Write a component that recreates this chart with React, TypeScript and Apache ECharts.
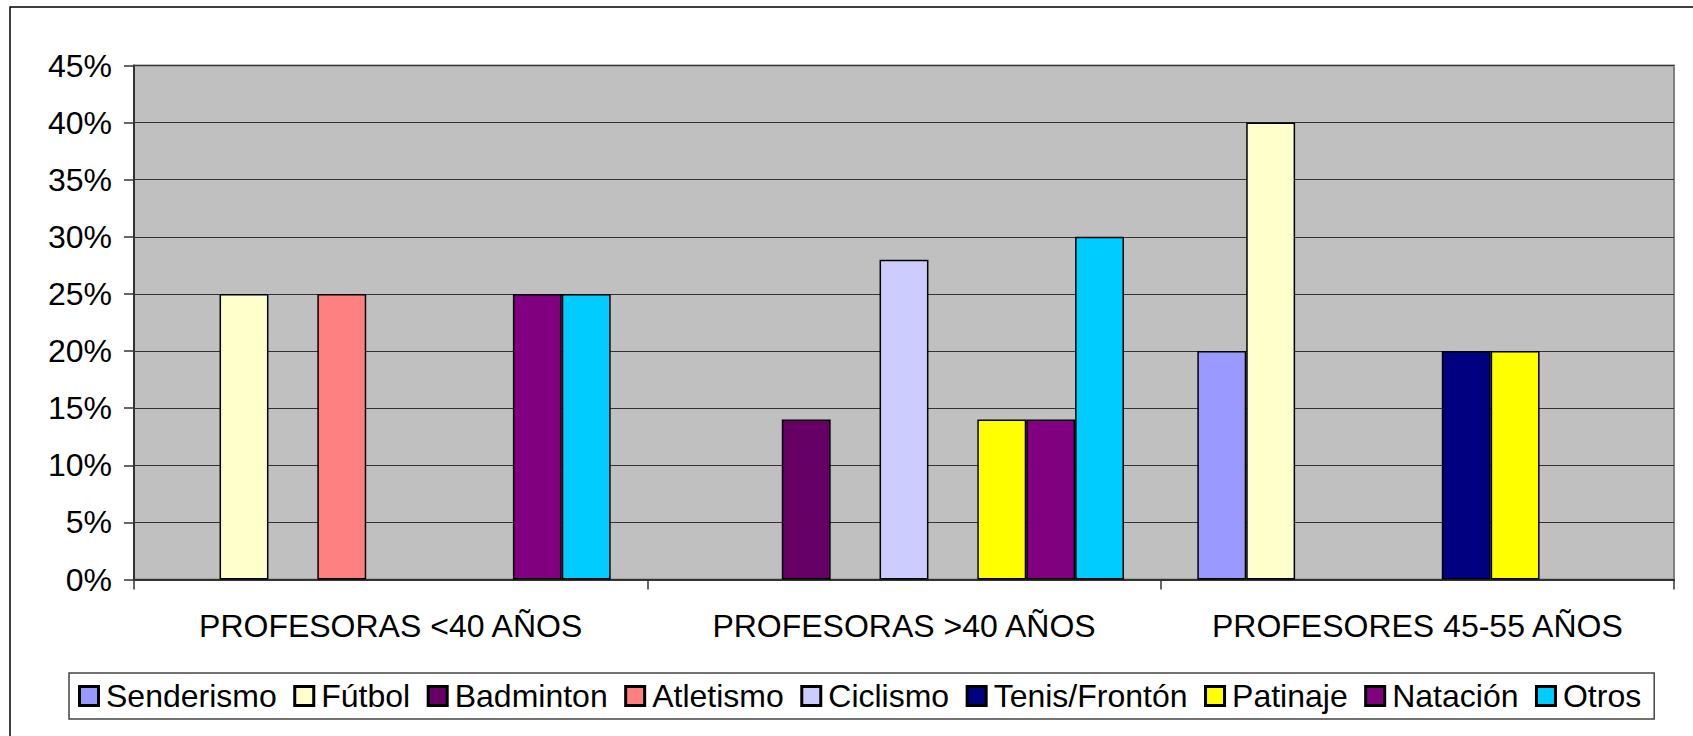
import React, { useEffect, useRef } from "react";
import * as echarts from "echarts";

const categories = ["PROFESORAS <40 AÑOS", "PROFESORAS >40 AÑOS", "PROFESORES 45-55 AÑOS"];
const yTicks = [0, 5, 10, 15, 20, 25, 30, 35, 40, 45];

const seriesNames = ["Senderismo", "Fútbol", "Badminton", "Atletismo", "Ciclismo", "Tenis/Frontón", "Patinaje", "Natación", "Otros"];
const seriesColors = ["#9999FF", "#FFFFCC", "#660066", "#FF8080", "#CCCCFF", "#000080", "#FFFF00", "#800080", "#00CCFF"];

const senderismo = [null, null, 20];
const futbol = [25, null, 40];
const badminton = [null, 14, null];
const atletismo = [25, null, null];
const ciclismo = [null, 28, null];
const tenis = [null, null, 20];
const patinaje = [null, 14, 20];
const natacion = [25, 14, null];
const otros = [25, 30, null];

const seriesValues = [senderismo, futbol, badminton, atletismo, ciclismo, tenis, patinaje, natacion, otros];

const FONT = "'Liberation Sans', Arial, sans-serif";

export default function App() {
  const ref = useRef<HTMLDivElement>(null);
  useEffect(() => {
    if (!ref.current) return;
    const chart = echarts.init(ref.current, null, { renderer: "svg" });
    const rich: Record<string, any> = {
      t: { fontSize: 32, color: "#000", fontFamily: FONT },
      g: { width: 9, height: 16 },
    };
    seriesNames.forEach((_, i) => {
      rich["s" + i] = {
        width: 16,
        height: 16,
        backgroundColor: seriesColors[i],
        borderColor: "#000",
        borderWidth: 3,
        verticalAlign: "middle",
      };
    });
    chart.setOption({
      animation: false,
      backgroundColor: "#ffffff",
      textStyle: { fontFamily: FONT },
      graphic: [
        {
          type: "rect",
          shape: { x: 10, y: 7, width: 1750, height: 800 },
          style: { fill: "none", stroke: "#000", lineWidth: 1.5 },
          silent: true,
          z: -1,
        },
      ],
      grid: {
        left: 134,
        top: 65.5,
        right: 19,
        bottom: 156.5,
        show: true,
        backgroundColor: "#C0C0C0",
        borderColor: "#808080",
        borderWidth: 2,
      },
      legend: {
        left: 69,
        top: 673,
        icon: "rect",
        itemWidth: 0,
        itemHeight: 0,
        itemGap: 14.5,
        padding: [7, 13, 7, 7],
        borderColor: "#444",
        borderWidth: 1.5,
        backgroundColor: "#fff",
        itemStyle: { opacity: 0, borderWidth: 0 },
        textStyle: { fontSize: 32, color: "#000", fontFamily: FONT, rich },
        formatter: (name: string) => `{s${seriesNames.indexOf(name)}|}{g|}{t|${name}}`,
        data: seriesNames,
      },
      xAxis: {
        type: "category",
        data: categories,
        axisLine: { show: true, lineStyle: { color: "#333", width: 2 } },
        axisTick: { show: true, length: 10, interval: 0, lineStyle: { color: "#333", width: 1.5 } },
        axisLabel: { fontSize: 32, color: "#000", margin: 30, fontFamily: FONT, interval: 0 },
        splitLine: { show: false },
      },
      yAxis: {
        type: "value",
        min: yTicks[0],
        max: yTicks[yTicks.length - 1],
        interval: 5,
        axisLine: { show: true, lineStyle: { color: "#333", width: 2 } },
        axisTick: { show: true, length: 10, lineStyle: { color: "#333", width: 1.5 } },
        axisLabel: { fontSize: 32, color: "#000", margin: 22, fontFamily: FONT, formatter: "{value}%" },
        splitLine: { show: true, lineStyle: { color: "#333", width: 1.2 } },
      },
      series: seriesNames.map((name, i) => ({
        name,
        type: "bar",
        data: seriesValues[i],
        barGap: "0%",
        barCategoryGap: "14.2857%",
        itemStyle: { color: seriesColors[i], borderColor: "#000", borderWidth: 1.5 },
      })),
    });
    return () => chart.dispose();
  }, []);
  return (
    <div
      ref={ref}
      style={{ position: "fixed", left: 0, top: 0, width: 1693, height: 736 }}
    />
  );
}
